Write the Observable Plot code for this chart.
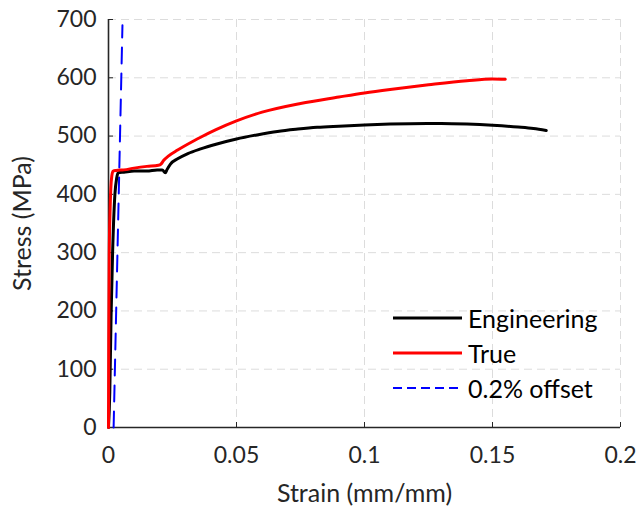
<!DOCTYPE html>
<html>
<head>
<meta charset="utf-8">
<script src="https://cdn.jsdelivr.net/npm/d3@7"></script>
<script src="https://cdn.jsdelivr.net/npm/@observablehq/plot@0.6"></script>
<style>
  html, body { margin: 0; padding: 0; background: #fff; }
  #wrap { position: relative; width: 638px; height: 508px; font-family: Lato, "Open Sans", sans-serif; }
  #legend { position: absolute; left: 393px; top: 300px; color: #000; font-size: 25px; }
  #legend .row { display: flex; align-items: center; height: 35px; }
  #legend svg { margin-right: 6px; }
</style>
</head>
<body>
<div id="wrap"></div>
<script>
// ---- data ----
const engStrain = [0, 0.0005, 0.001, 0.0016, 0.0025, 0.0032, 0.0038, 0.006, 0.01, 0.015, 0.019, 0.021, 0.0222, 0.0228, 0.0242, 0.027, 0.031, 0.036, 0.042, 0.05, 0.058, 0.066, 0.074, 0.0815, 0.09, 0.1, 0.11, 0.1245, 0.13, 0.14, 0.15, 0.16, 0.166, 0.171];
const engStress = [0, 60, 190, 300, 400, 428, 437, 438, 440, 440, 442, 442, 437, 442, 452, 461, 470, 478, 486, 495, 502, 508, 512, 515, 517, 519, 520.5, 521.5, 521.5, 520.5, 518.5, 515.5, 513, 509.5];

const trueStrain = [0, 0.0001, 0.0003, 0.0006, 0.0009, 0.0013, 0.0018, 0.003, 0.006, 0.01, 0.015, 0.0195, 0.0205, 0.0215, 0.0235, 0.027, 0.0334, 0.036, 0.042, 0.05, 0.06, 0.075, 0.09, 0.1, 0.11, 0.125, 0.14, 0.15, 0.155];
const trueStress = [0, 150, 300, 370, 410, 432, 440, 441, 442, 445, 448, 450, 452, 458, 466, 476, 492, 498, 511, 526, 541, 556, 567, 574, 580, 588, 595, 598, 597.5];

const offStrain = [0.002, 0.00545];
const offStress = [0, 690];

const xTicks = [0, 0.05, 0.1, 0.15, 0.2];
const yTicks = [0, 100, 200, 300, 400, 500, 600, 700];

const seriesNames = ["Engineering", "True", "0.2% offset"];
const seriesColors = ["#000000", "#ff0000", "#0000ff"];

// ---- build ----
const toPts = (xs, ys) => xs.map((x, i) => ({x, y: ys[i]}));
const eng = toPts(engStrain, engStress);
const tru = toPts(trueStrain, trueStress);
const off = toPts(offStrain, offStress);

const ink = "#262626";
const gridColor = "#dcdcdc";
const chart = Plot.plot({
  width: 638,
  height: 508,
  marginLeft: 108,
  marginRight: 18,
  marginTop: 19,
  marginBottom: 81,
  style: {fontFamily: "Lato, 'Open Sans', sans-serif", fontSize: "23px", color: ink, background: "#fff"},
  x: {domain: [0, 0.2]},
  y: {domain: [0, 700]},
  marks: [
    Plot.gridX(xTicks, {stroke: gridColor, strokeOpacity: 1, strokeDasharray: "8,5"}),
    Plot.gridY(yTicks, {stroke: gridColor, strokeOpacity: 1, strokeDasharray: "8,5"}),
    Plot.ruleX([0], {stroke: ink, strokeWidth: 1.6}),
    Plot.ruleY([0], {stroke: ink, strokeWidth: 1.6}),
    Plot.axisX(xTicks, {tickSize: -5, tickPadding: 24, stroke: ink, fill: ink, fontSize: 23, tickFormat: d => String(d), label: null}),
    Plot.axisY(yTicks, {tickSize: -5, tickPadding: 17, stroke: ink, fill: ink, fontSize: 23, label: null}),
    Plot.axisX({ticks: [], label: "Strain (mm/mm)", labelAnchor: "center", labelOffset: 74, labelArrow: "none", fontSize: 25, fill: ink}),
    Plot.axisY({ticks: [], label: "Stress (MPa)", labelAnchor: "center", labelOffset: 95, labelArrow: "none", fontSize: 25, fill: ink}),
    Plot.line(off, {x: "x", y: "y", stroke: seriesColors[2], strokeWidth: 2, strokeDasharray: "16,10"}),
    Plot.line(eng, {x: "x", y: "y", stroke: seriesColors[0], strokeWidth: 3, curve: "monotone-x"}),
    Plot.line(tru, {x: "x", y: "y", stroke: seriesColors[1], strokeWidth: 3, curve: "monotone-x"})
  ]
});
const wrap = document.getElementById("wrap");
wrap.appendChild(chart);

// legend
const leg = document.createElement("div");
leg.id = "legend";
seriesNames.forEach((name, i) => {
  const row = document.createElement("div");
  row.className = "row";
  const dash = i === 2 ? ' stroke-dasharray="9,5"' : '';
  const w = i === 2 ? 2 : 3;
  row.innerHTML = `<svg width="69" height="10"><line x1="0" y1="5" x2="69" y2="5" stroke="${seriesColors[i]}" stroke-width="${w}"${dash}/></svg><span>${name}</span>`;
  leg.appendChild(row);
});
wrap.appendChild(leg);
</script>
</body>
</html>
